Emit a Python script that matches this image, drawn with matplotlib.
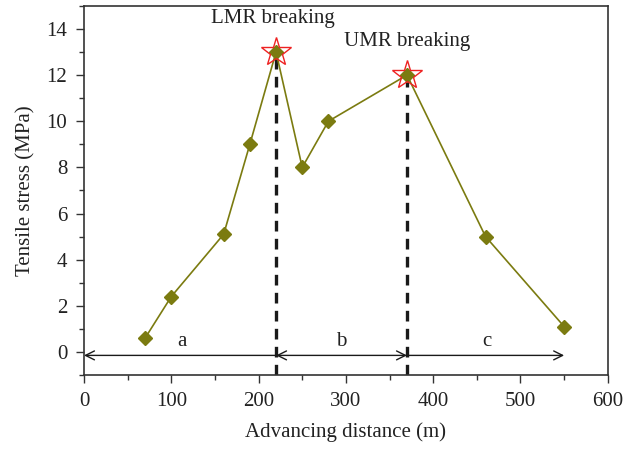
import numpy as np
import matplotlib.pyplot as plt
from matplotlib.ticker import MultipleLocator

# data
distance = [70, 100, 160, 190, 220, 250, 280, 370, 460, 550]
stress = [0.6, 2.4, 5.1, 9.0, 13.0, 8.0, 10.0, 12.0, 5.0, 1.1]
break_x = [220, 370]
break_y = [13.0, 12.0]
break_names = ['LMR breaking', 'UMR breaking']
zones = ['a', 'b', 'c']
zone_edges = [0, 220, 370, 550]

plt.rcParams['font.family'] = ['Liberation Serif', 'DejaVu Serif']
fs = 15

fig = plt.figure(figsize=(6.24, 4.51), dpi=100)
ax = fig.add_axes([0.1346, 0.1685, 0.8394, 0.8185])

# vertical dashed lines at breaking positions
for bx, by in zip(break_x, break_y):
    ax.plot([bx, bx], [-1, by], color='#1a1a1a', lw=2.4, ls=(0, (3.2, 2.2)), zorder=2)

ax.plot(distance, stress, color='#7b7b10', lw=1.2, marker='D', ms=7.5,
        mfc='#7b7b10', mec='#7b7b10', zorder=3)
ax.plot(break_x, break_y, ls='none', marker='*', ms=22, mfc='none',
        mec='#ee2222', mew=1.0, zorder=4)

# zone arrows
arrow_y = -0.15
styles = ['<-', '<->', '->']
for i, z in enumerate(zones):
    x0, x1 = zone_edges[i], zone_edges[i + 1]
    ax.annotate('', xy=(x1, arrow_y), xytext=(x0, arrow_y),
                arrowprops=dict(arrowstyle=styles[i], color='#1a1a1a', lw=1.0,
                                shrinkA=0, shrinkB=0, mutation_scale=16))
label_x = [112, 295, 461]
for lx, z in zip(label_x, zones):
    ax.text(lx, 0.05, z, ha='center', va='bottom', fontsize=fs, color='#222222')

ax.text(216, 14.45, break_names[0], ha='center', va='center', fontsize=fs, color='#222222')
ax.text(370, 13.45, break_names[1], ha='center', va='center', fontsize=fs, color='#222222')

ax.set_xlim(0, 600)
ax.set_ylim(-1, 15)
ax.set_xticks(np.arange(0, 601, 100))
ax.set_yticks(np.arange(0, 15, 2))
ax.xaxis.set_minor_locator(MultipleLocator(50))
ax.yaxis.set_minor_locator(MultipleLocator(1))
ax.tick_params(which='major', direction='out', length=6, width=1.0, colors='#333333',
               labelcolor='#222222', labelsize=fs, pad=6)
ax.tick_params(which='minor', direction='out', length=3.5, width=1.0, colors='#333333')
for s in ax.spines.values():
    s.set_color('#333333')
    s.set_linewidth(1.2)

ax.set_xlabel('Advancing distance (m)', fontsize=fs, color='#222222', labelpad=8)
ax.set_ylabel('Tensile stress (MPa)', fontsize=fs, color='#222222', labelpad=8)

fig.savefig('out.png', dpi=100)
